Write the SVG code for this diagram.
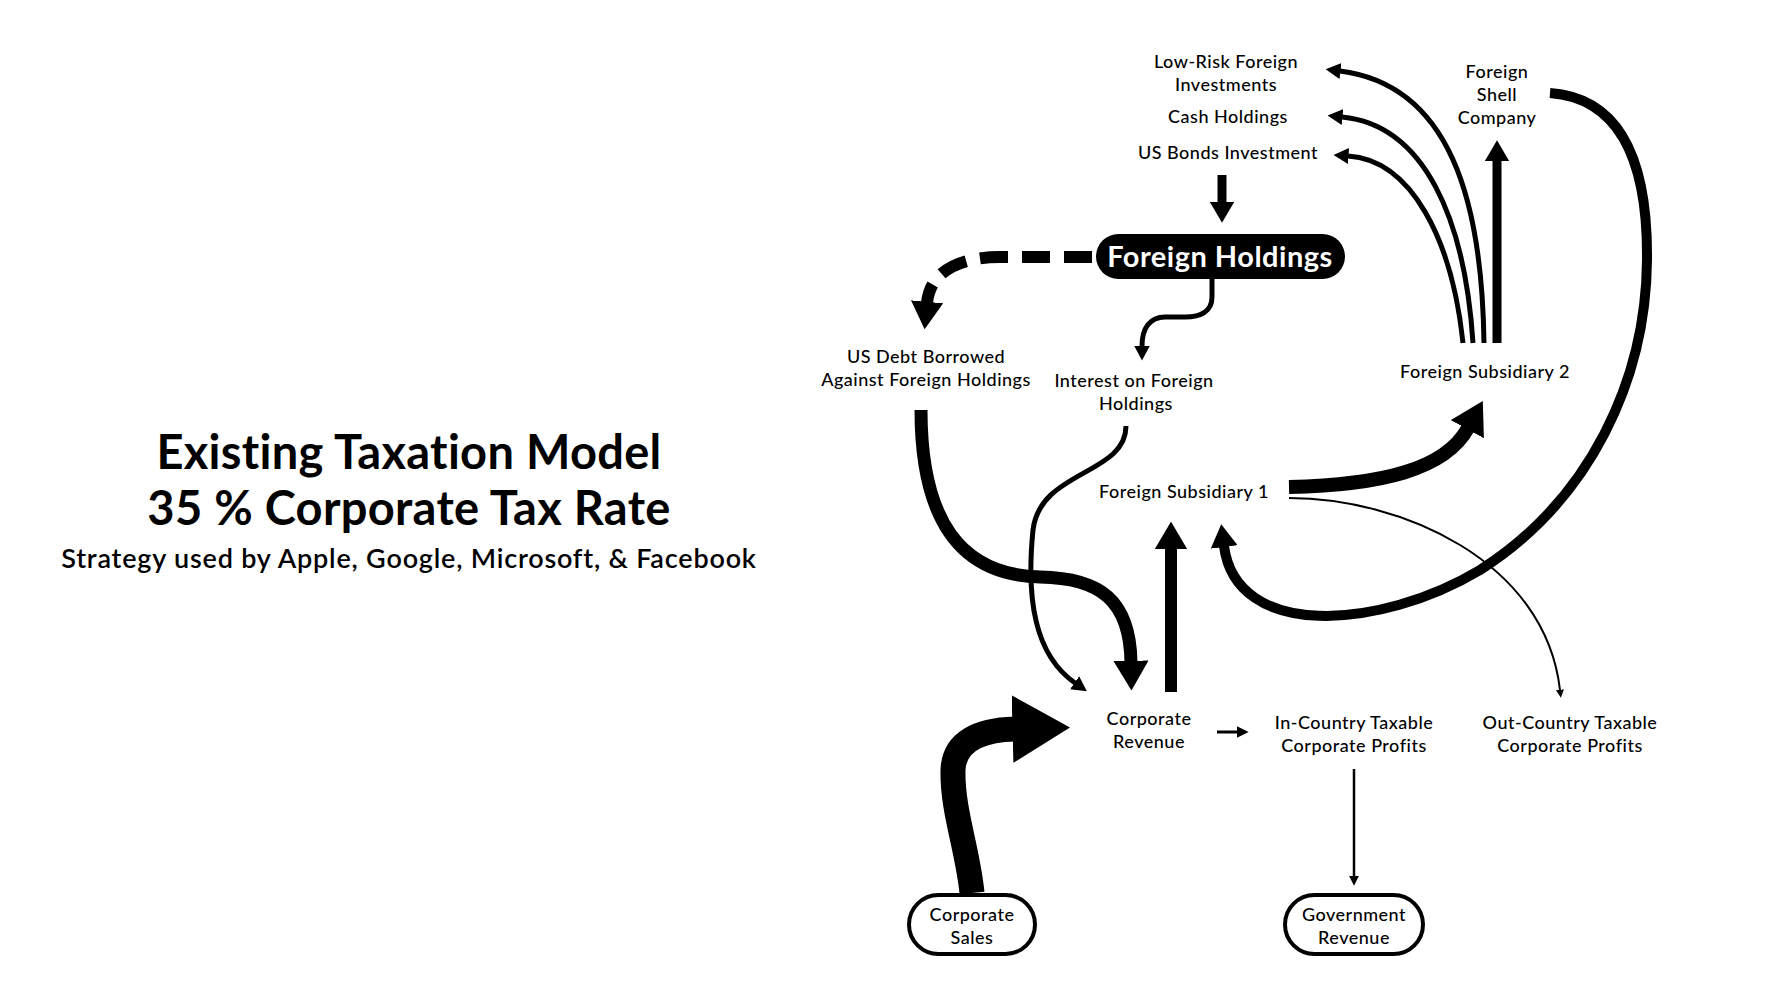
<svg xmlns="http://www.w3.org/2000/svg" width="1778" height="1000" viewBox="0 0 1778 1000">
<style>
text{font-family:Lato,"Noto Sans","Liberation Sans",sans-serif;fill:#000;text-anchor:middle}
.lbl{font-size:18px;font-weight:500;letter-spacing:0.5px}
.title{font-size:47px;font-weight:700;letter-spacing:0.3px}
.sub{font-size:27px;font-weight:600;letter-spacing:0.8px}
.fh{font-size:29px;font-weight:700;fill:#fff;letter-spacing:0.5px}
.c{fill:none;stroke:#000;stroke-linecap:butt;stroke-linejoin:round}
.pill{fill:#fff;stroke:#000;stroke-width:4}
</style>
<defs>
<marker id="big" viewBox="0 0 23 27" refX="1" refY="13.5" markerWidth="2.3" markerHeight="2.7" orient="auto" markerUnits="strokeWidth"><path d="M0,0 L23,13.5 L0,27 Z" fill="#000"/></marker>
<marker id="med" viewBox="0 0 30 32" refX="1" refY="16" markerWidth="3" markerHeight="3.2" orient="auto" markerUnits="strokeWidth"><path d="M0,0 L30,16 L0,32 Z" fill="#000"/></marker>
<marker id="sm" viewBox="0 0 40 40" refX="1" refY="20" markerWidth="4" markerHeight="4" orient="auto" markerUnits="strokeWidth"><path d="M0,0 L40,20 L0,40 Z" fill="#000"/></marker>
</defs>
<rect width="1778" height="1000" fill="#fff"/>

<g id="title">
<text class="title" x="409" y="469">Existing Taxation Model</text>
<text class="title" x="409" y="525">35 % Corporate Tax Rate</text>
<text class="sub" x="409" y="568">Strategy used by Apple, Google, Microsoft, &amp; Facebook</text>
</g>

<g id="connectors">
<path class="c" d="M1222,175 L1222,203" stroke-width="9" marker-end="url(#big)"/>
<path class="c" d="M1092,257 L1000,257 C962,257 930,270 927,303" stroke-width="12" stroke-dasharray="28 14" marker-end="url(#big)"/>
<path class="c" d="M1212,279 L1212,297 C1212,312 1200,317 1185,317 L1165,317 C1150,317 1142,328 1142,346" stroke-width="5" marker-end="url(#med)"/>
<path class="c" d="M921,410 C921,520 960,575 1040,577 C1100,578 1130,600 1131,662" stroke-width="13" marker-end="url(#big)"/>
<path class="c" d="M1126,426 C1126,475 1040,470 1033,530 C1026,600 1035,655 1075,683" stroke-width="5" marker-end="url(#med)"/>
<path class="c" d="M1171,692 L1171,548" stroke-width="12" marker-end="url(#big)"/>
<path class="c" d="M972,893 C968,850 952,810 953,770 C954,742 978,730 1015,729" stroke-width="25" marker-end="url(#big)"/>
<path class="c" d="M1217,732 L1237,732" stroke-width="3" marker-end="url(#sm)"/>
<path class="c" d="M1354,769 L1354,876" stroke-width="2.5" marker-end="url(#sm)"/>
<path class="c" d="M1289,498 C1400,498 1545,560 1560,690" stroke-width="2" marker-end="url(#sm)"/>
<path class="c" d="M1289,487 C1380,485 1445,470 1468,428" stroke-width="14" marker-end="url(#big)"/>
<path class="c" d="M1550,93 C1620,98 1648,160 1647,260 C1646,380 1590,500 1480,570 C1380,630 1236,640 1224,546" stroke-width="10" marker-end="url(#big)"/>
<path class="c" d="M1484,343 C1482,200 1450,85 1340,71" stroke-width="5" marker-end="url(#med)"/>
<path class="c" d="M1473,343 C1465,220 1425,125 1342,117" stroke-width="5" marker-end="url(#med)"/>
<path class="c" d="M1463,343 C1452,240 1412,160 1348,156" stroke-width="5" marker-end="url(#med)"/>
<path class="c" d="M1497,343 L1497,160" stroke-width="9" marker-end="url(#big)"/>
</g>

<g id="low-risk"><text class="lbl" x="1226" y="68">Low-Risk Foreign</text><text class="lbl" x="1226" y="91">Investments</text></g>
<g id="cash"><text class="lbl" x="1228" y="123">Cash Holdings</text></g>
<g id="us-bonds"><text class="lbl" x="1228" y="159">US Bonds Investment</text></g>
<g id="shell"><text class="lbl" x="1497" y="78">Foreign</text><text class="lbl" x="1497" y="101">Shell</text><text class="lbl" x="1497" y="124">Company</text></g>
<g id="foreign-holdings"><rect x="1096" y="234" width="249" height="45" rx="22.5" fill="#000"/><text class="fh" x="1220" y="267">Foreign Holdings</text></g>
<g id="us-debt"><text class="lbl" x="926" y="363">US Debt Borrowed</text><text class="lbl" x="926" y="386">Against Foreign Holdings</text></g>
<g id="interest"><text class="lbl" x="1134" y="387">Interest on Foreign</text><text class="lbl" x="1136" y="410">Holdings</text></g>
<g id="sub2"><text class="lbl" x="1485" y="378">Foreign Subsidiary 2</text></g>
<g id="sub1"><text class="lbl" x="1184" y="498">Foreign Subsidiary 1</text></g>
<g id="revenue"><text class="lbl" x="1149" y="725">Corporate</text><text class="lbl" x="1149" y="748">Revenue</text></g>
<g id="in-country"><text class="lbl" x="1354" y="729">In-Country Taxable</text><text class="lbl" x="1354" y="752">Corporate Profits</text></g>
<g id="out-country"><text class="lbl" x="1570" y="729">Out-Country Taxable</text><text class="lbl" x="1570" y="752">Corporate Profits</text></g>
<g id="sales"><rect class="pill" x="909" y="895" width="126" height="59" rx="29.5"/><text class="lbl" x="972" y="921">Corporate</text><text class="lbl" x="972" y="944">Sales</text></g>
<g id="government"><rect class="pill" x="1285" y="895" width="138" height="59" rx="29.5"/><text class="lbl" x="1354" y="921">Government</text><text class="lbl" x="1354" y="944">Revenue</text></g>
</svg>
